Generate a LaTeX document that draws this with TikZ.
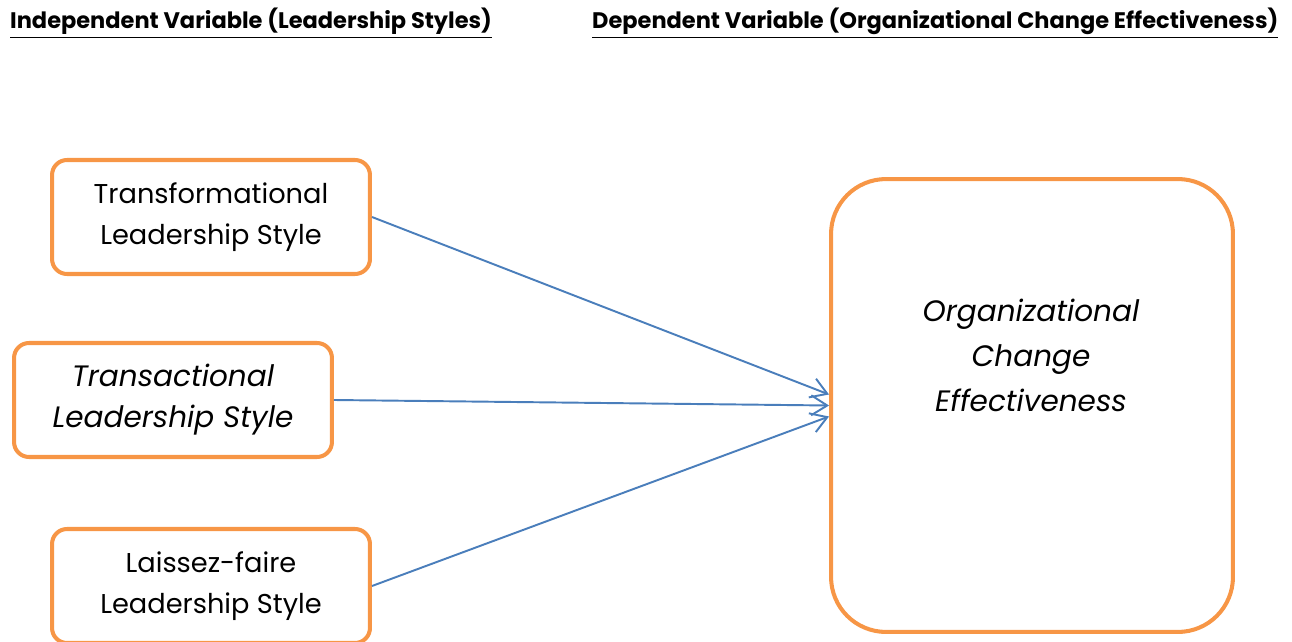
\documentclass[tikz,border=0pt]{standalone}
\usepackage{fontspec}
\setmainfont{Poppins}
\usepackage{tikz}
\usetikzlibrary{arrows.meta}
\usetikzlibrary{calc}
\definecolor{boxorange}{HTML}{F79646}
\definecolor{linkblue}{HTML}{4A7EBB}
\tikzset{>={Straight Barb[length=3.2mm, width=4mm]}}
\tikzset{
  ivbox/.style={draw=boxorange, line width=2.3pt, rounded corners=3mm,
    minimum width=6.36cm, minimum height=2.28cm, align=center,
    font=\fontsize{15.5}{23.3}\selectfont},
  dvbox/.style={draw=boxorange, line width=2.3pt, rounded corners=11mm,
    minimum width=8.04cm, minimum height=9.06cm},
  heading/.style={font=\fontsize{12.8}{15}\selectfont\bfseries, anchor=west},
  link/.style={->, draw=linkblue, line width=1.1pt}
}

\begin{document}
\begin{tikzpicture}[x=0.02cm, y=-0.02cm]
                \useasboundingbox (0, 0) rectangle (1292, 642);
                \node[heading] (ivhead) at (4, 23) {\underline{Independent Variable (Leadership Styles)}};
                \node[heading] (dvhead) at (586, 23) {\underline{Dependent Variable (Organizational Change Effectiveness)}};
                \node[ivbox] (transform) at (211, 217) {Transformational\\Leadership Style};
                \node[ivbox, font=\fontsize{16.8}{23.3}\selectfont\itshape] (transact) at (173, 400) {Transactional\\Leadership Style};
                \node[ivbox] (laissez) at (211, 586) {Laissez-faire\\Leadership Style};
                \node[dvbox] (oce) at (1032, 405.5) {};
                \node[align=center, font=\fontsize{16.8}{25.6}\selectfont\itshape] (ocetext) at (1031, 355) {Organizational\\Change\\Effectiveness};
                \draw[link] (transform.east) -- ($(oce.west)+(0,-11)$);
                \draw[link] (transact.east) -- (oce.west);
                \draw[link] (laissez.east) -- ($(oce.west)+(0,11)$);
            \end{tikzpicture}
\end{document}
